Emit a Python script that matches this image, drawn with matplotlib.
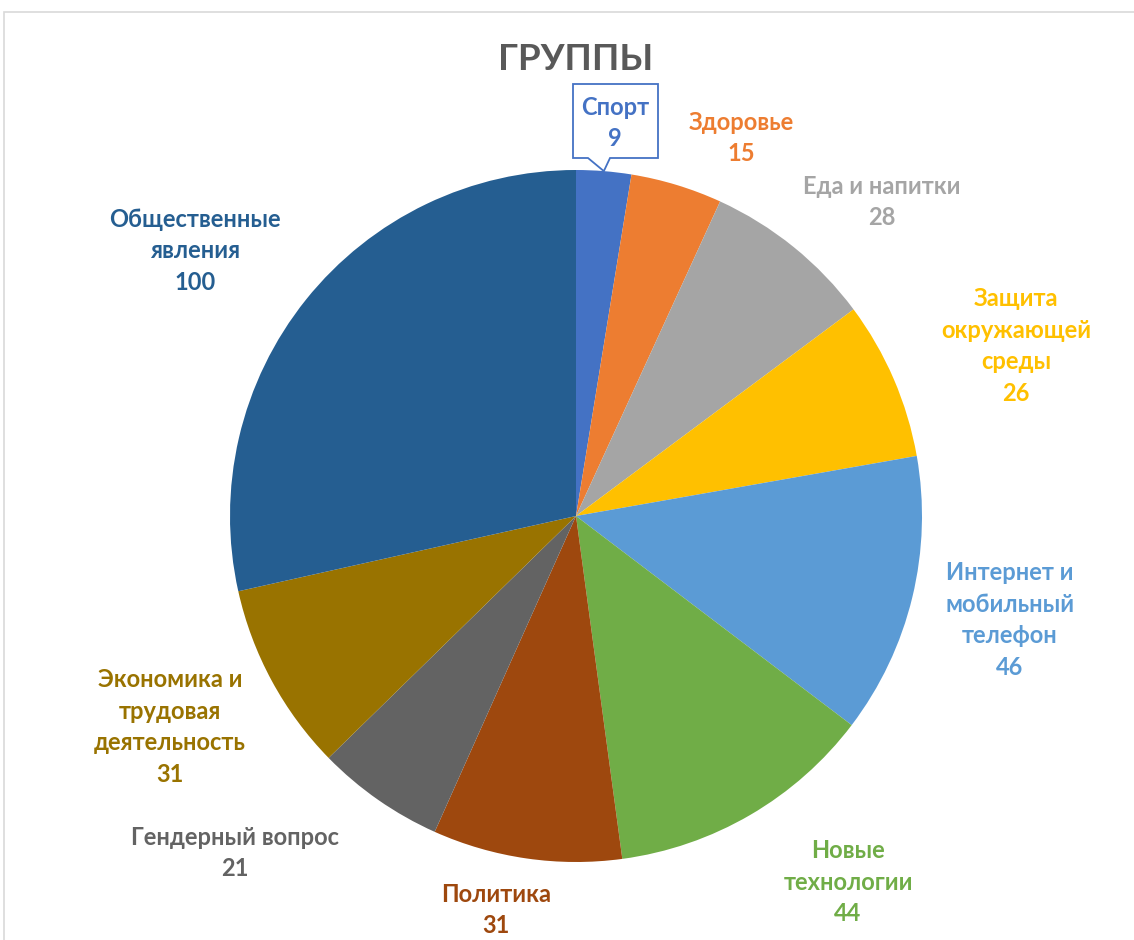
import matplotlib.pyplot as plt
import numpy as np
from matplotlib.patches import Rectangle, Polygon

# --- Data ---
categories = [
    "Спорт", "Здоровье", "Еда и напитки", "Защита\nокружающей\nсреды",
    "Интернет и\nмобильный\nтелефон", "Новые\nтехнологии", "Политика",
    "Гендерный вопрос", "Экономика и\nтрудовая\nдеятельность",
    "Общественные\nявления",
]
values = [9, 15, 28, 26, 46, 44, 31, 21, 31, 100]
colors = ["#4472C4", "#ED7D31", "#A5A5A5", "#FFC000", "#5B9BD5",
          "#70AD47", "#9E480E", "#636363", "#997300", "#255E91"]

# label centres in pixels (x, y from top)
label_xy = [(615, 123), (741, 138), (882, 202), (1016, 346), (1010, 620),
            (848, 882), (496, 910), (235, 853), (170, 727), (195, 251)]

W, H = 1134, 940
cx, cy, R = 576, 516, 346

plt.rcParams["font.family"] = ["Lato", "DejaVu Sans"]

fig = plt.figure(figsize=(W / 100, H / 100), dpi=100)
ax = fig.add_axes([0, 0, 1, 1])
ax.set_xlim(0, W)
ax.set_ylim(0, H)
ax.set_aspect("equal")
ax.axis("off")

# chart border
ax.add_patch(Rectangle((4, -10), W + 20, H - 12 + 10, fill=False,
                       edgecolor="#D9D9D9", linewidth=1.2))

wedges, _ = ax.pie(values, colors=colors, startangle=90, counterclock=False,
                   center=(cx, H - cy), radius=R,
                   wedgeprops=dict(linewidth=0))
ax.set_xlim(0, W)
ax.set_ylim(0, H)

ax.text(cx, H - 60, "ГРУППЫ", ha="center", va="center", fontsize=26.5,
        fontweight="bold", color="#595959")

# callout box for the first slice
w0 = wedges[0]
mid = np.deg2rad((w0.theta1 + w0.theta2) / 2)
tip = (cx + R * np.cos(mid), H - cy + R * np.sin(mid))
bx0, bx1, by0, by1 = 573, 658, 84, 158
callout = Polygon([(bx0, H - by0), (bx1, H - by0), (bx1, H - by1),
                   (610, H - by1), tip, (588, H - by1), (bx0, H - by1)],
                  closed=True, facecolor="white", edgecolor=colors[0],
                  linewidth=1.3, zorder=3)
ax.add_patch(callout)

for name, v, c, (lx, ly) in zip(categories, values, colors, label_xy):
    ax.text(lx, H - ly, f"{name}\n{v}", ha="center", va="center",
            fontsize=17, fontweight="bold", color=c, linespacing=1.45,
            zorder=4)

fig.savefig("out.png", dpi=100)
